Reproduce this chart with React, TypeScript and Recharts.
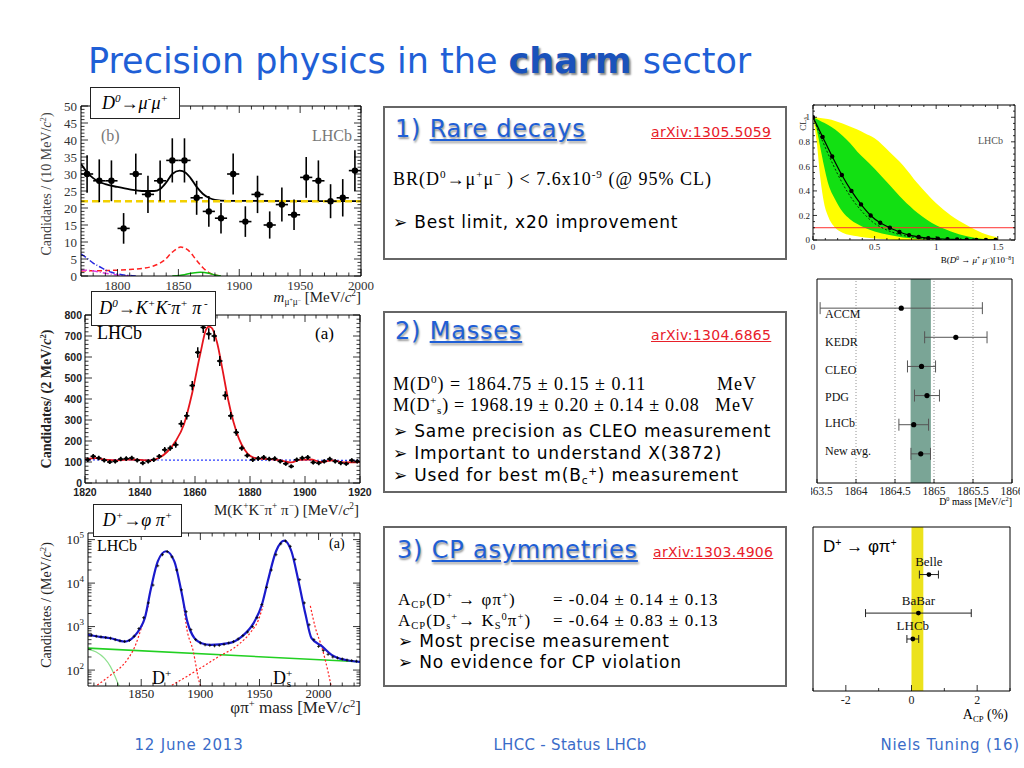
import React from 'react';
import { ComposedChart, XAxis, YAxis, Line, Scatter, ErrorBar, Area, ReferenceArea, ReferenceLine, LabelList } from 'recharts';

const SERIF = '"Liberation Serif", "DejaVu Serif", serif';
const SANS = '"DejaVu Sans", sans-serif';
const ARIAL = '"Liberation Sans", Arial, sans-serif';
const BLUE = '#1f5fd6';

// ---------- D0 -> mu+ mu- ----------
const mmBins = [1775, 1785, 1795, 1805, 1815, 1825, 1835, 1845, 1855, 1865, 1875, 1885, 1895, 1905, 1915, 1925, 1935, 1945, 1955, 1965, 1975, 1985, 1995];
const mmCounts = [30, 28, 28, 14, 30, 24, 28, 34, 34, 23, 19, 17, 30, 16, 24, 15, 21, 18, 29, 28, 22, 23, 31];
const mmErr = [5.5, 6.3, 6, 4.5, 6, 5.5, 6, 6.5, 6.5, 5, 4.5, 4.5, 6, 4.5, 5.5, 4, 5, 4.5, 6, 6, 5, 5.5, 6];
const mmFit: [number, number][] = [[1770, 33], [1775, 30.5], [1780, 28.8], [1790, 27], [1800, 26.2], [1810, 25.5], [1820, 25], [1830, 25], [1835, 25.6], [1840, 27.5], [1845, 30], [1851, 31], [1856, 30.4], [1860, 28.8], [1865, 26.2], [1870, 24.2], [1875, 23], [1880, 22.4], [1890, 22.1], [2000, 22]];
const mmComb: [number, number][] = [[1770, 22], [2000, 22]];
const mmPeak: [number, number][] = [[1770, 1.5], [1790, 1.6], [1810, 1.9], [1820, 2.2], [1830, 3], [1838, 4.5], [1845, 7], [1852, 8.5], [1858, 7.6], [1865, 4.6], [1870, 2.5], [1875, 1], [1880, 0.3], [1885, 0]];
const mmMisId: [number, number][] = [[1770, 6.5], [1775, 5.2], [1780, 3.8], [1785, 2.8], [1790, 1.8], [1795, 1.1], [1800, 0.6], [1808, 0.2], [1815, 0]];
const mmMag: [number, number][] = [[1770, 1.8], [1780, 1.5], [1790, 0.8], [1800, 0.3], [1810, 0]];
const mmSig: [number, number][] = [[1845, 0], [1855, 0.4], [1862, 0.9], [1868, 1.1], [1875, 0.8], [1880, 0.3], [1885, 0]];

// ---------- D0 -> K K pi pi ----------
const kkBins = [1821, 1823, 1825, 1827, 1829, 1831, 1833, 1835, 1837, 1839, 1841, 1843, 1845, 1847, 1849, 1851, 1853, 1855, 1857, 1859, 1861, 1863, 1865, 1867, 1869, 1871, 1873, 1875, 1877, 1879, 1881, 1883, 1885, 1887, 1889, 1891, 1893, 1895, 1897, 1899, 1901, 1903, 1905, 1907, 1909, 1911, 1913, 1915, 1917, 1919];
const kkCounts = [111, 127, 119, 108, 100, 103, 114, 116, 119, 108, 95, 103, 111, 127, 158, 166, 182, 282, 320, 464, 622, 741, 710, 700, 581, 417, 320, 241, 166, 131, 111, 117, 122, 114, 116, 103, 92, 79, 111, 119, 122, 98, 95, 103, 114, 103, 95, 92, 108, 103];
const kkErr = [11, 11, 11, 10, 10, 10, 11, 11, 11, 10, 10, 10, 11, 11, 13, 13, 14, 17, 18, 22, 25, 27, 27, 26, 24, 20, 18, 16, 13, 11, 11, 11, 11, 11, 11, 10, 10, 9, 11, 11, 11, 10, 10, 10, 11, 10, 10, 10, 10, 10];
const kkFit: [number, number][] = [[1820, 112], [1824, 118], [1828, 110], [1832, 108], [1836, 112], [1840, 110], [1844, 108], [1847, 120], [1850, 150], [1853, 200], [1856, 280], [1859, 430], [1862, 620], [1864, 730], [1865, 745], [1866, 740], [1868, 670], [1870, 540], [1872, 400], [1874, 290], [1876, 210], [1878, 160], [1880, 130], [1883, 116], [1887, 114], [1891, 108], [1895, 98], [1898, 110], [1902, 112], [1906, 100], [1910, 108], [1914, 98], [1920, 100]];
const kkBkg: [number, number][] = [[1820, 110], [1920, 108]];

// ---------- D+ -> phi pi+ (log) ----------
const ppFit: [number, number][] = [[1805, 650], [1815, 580], [1824, 540], [1836, 450], [1844, 590], [1849, 900], [1853, 1550], [1858, 7000], [1864, 31600], [1871, 54000], [1878, 31600], [1884, 6300], [1889, 1300], [1895, 540], [1901, 415], [1909, 380], [1924, 415], [1935, 590], [1945, 1200], [1952, 3170], [1957, 11000], [1964, 54000], [1971, 95000], [1977, 54000], [1983, 11000], [1989, 1860], [1994, 540], [2003, 350], [2011, 224], [2023, 170], [2035, 155]];
const ppData: [number, number][] = [[1808, 640], [1812, 600], [1816, 580], [1820, 560], [1824, 540], [1828, 500], [1832, 470], [1836, 455], [1840, 480], [1844, 600], [1848, 900], [1852, 1600], [1856, 3500], [1860, 9000], [1864, 25000], [1868, 45000], [1872, 53000], [1876, 40000], [1880, 20000], [1884, 7000], [1888, 2200], [1892, 850], [1896, 500], [1900, 420], [1904, 380], [1908, 370], [1912, 360], [1916, 370], [1920, 390], [1924, 420], [1928, 450], [1932, 520], [1936, 620], [1940, 750], [1944, 1000], [1948, 1600], [1952, 3200], [1956, 8000], [1960, 20000], [1964, 45000], [1968, 80000], [1972, 93000], [1976, 70000], [1980, 35000], [1984, 12000], [1988, 3500], [1992, 1100], [1996, 500], [2000, 350], [2004, 280], [2008, 230], [2012, 200], [2016, 190], [2020, 180], [2024, 170], [2028, 165], [2032, 160]];
const ppComb: [number, number][] = [[1805, 320], [2035, 155]];
const ppLow: [number, number][] = [[1805, 300], [1812, 260], [1819, 185], [1824, 120], [1828, 70], [1831, 45], [1833, 35]];
const ppDpL: [number, number][] = [[1810, 40], [1824, 76], [1838, 170], [1844, 316], [1851, 1100], [1856, 3000]];
const ppDpR: [number, number][] = [[1886, 3000], [1888, 1100], [1894, 270], [1899, 54], [1901, 38]];
const ppDsL: [number, number][] = [[1873, 40], [1895, 91], [1915, 200], [1932, 380], [1943, 770], [1949, 1400], [1953, 3000]];
const ppDsR: [number, number][] = [[1993, 3000], [1997, 1000], [2003, 316], [2008, 91], [2011, 38]];

// ---------- CLs scan ----------
const clGrid = [0, 0.03, 0.06, 0.09, 0.12, 0.18, 0.24, 0.3, 0.36, 0.42, 0.5, 0.62, 0.73, 0.85, 1.0, 1.12, 1.25, 1.37, 1.5];
const clYelHi = [1, 0.999, 0.995, 0.99, 0.985, 0.97, 0.95, 0.925, 0.9, 0.87, 0.83, 0.72, 0.61, 0.46, 0.3, 0.2, 0.12, 0.06, 0.02];
const clYelLo = [1, 0.8, 0.5, 0.3, 0.2, 0.1, 0.06, 0.04, 0.03, 0.02, 0.012, 0.005, 0, 0, 0, 0, 0, 0, 0];
const clGrnHi = [1, 0.985, 0.97, 0.955, 0.94, 0.9, 0.85, 0.79, 0.72, 0.66, 0.58, 0.45, 0.33, 0.22, 0.12, 0.07, 0.03, 0.01, 0.003];
const clGrnLo = [1, 0.9, 0.75, 0.6, 0.47, 0.33, 0.23, 0.17, 0.13, 0.1, 0.07, 0.04, 0.02, 0.008, 0.002, 0, 0, 0, 0];
const clObsX = [0, 0.078, 0.156, 0.234, 0.312, 0.39, 0.468, 0.546, 0.624, 0.702, 0.78, 0.858, 0.936, 1.014, 1.092, 1.17, 1.248, 1.326, 1.404, 1.482];
const clObsY = [1, 0.84, 0.68, 0.53, 0.4, 0.29, 0.2, 0.14, 0.1, 0.065, 0.04, 0.025, 0.015, 0.01, 0.006, 0.004, 0.002, 0.001, 0.001, 0.0005];
const clExp: [number, number][] = [[0, 1], [0.08, 0.8], [0.16, 0.62], [0.24, 0.46], [0.32, 0.33], [0.4, 0.23], [0.48, 0.15], [0.56, 0.1], [0.64, 0.065], [0.72, 0.04], [0.8, 0.025], [0.9, 0.012], [1.0, 0.005], [1.2, 0.001], [1.5, 0]];
const clLimit = 0.1;

// ---------- D0 mass comparison ----------
const mNames = ['ACCM', 'KEDR', 'CLEO', 'PDG', 'LHCb', 'New avg.'];
const mVals = [1864.58, 1865.28, 1864.84, 1864.91, 1864.74, 1864.83];
const mErr = [1.04, 0.4, 0.18, 0.16, 0.19, 0.125];
const mRows = [6, 5, 4, 3, 2, 1];
const mLabelRows = [5.8, 4.85, 3.9, 2.95, 2.05, 1.1];
const mBand = [1864.7, 1864.96];
const mGrid = [1864, 1864.5, 1865, 1865.5];
const mTicks = [1863.5, 1864, 1864.5, 1865, 1865.5, 1866];

// ---------- ACP(D+ -> phi pi+) ----------
const aNames = ['Belle', 'BaBar', 'LHCb'];
const aVals = [0.53, 0.21, 0.04];
const aErr = [0.29, 1.61, 0.18];
const aRows = [7.1, 4.75, 3.17];
const aBand = [0, 0.36];

const xy = (a: [number, number][]) => a.map(([x, y]) => ({ x, y }));
const rng = (a: number, b: number, s: number) => {
  const r: number[] = [];
  for (let v = a; v <= b + s / 1000; v += s) r.push(Math.round(v * 1000) / 1000);
  return r;
};
const logTicks = (lo: number, hi: number) => {
  const r: number[] = [];
  for (const d of [10, 100, 1000, 10000, 100000]) for (let k = 1; k < 10; k++) if (k * d >= lo && k * d <= hi) r.push(k * d);
  return r;
};

const AX = { l: 46, r: 10, t: 10, b: 30 };

type Ax = {
  xd: [number, number]; yd: [number, number];
  xt: number[]; xm: number[]; yt: number[]; ym: number[];
  xf?: (v: number) => React.ReactNode; yf?: (v: number) => React.ReactNode;
  font: string; fs: number; fw?: number | string; fill?: string;
  xlb: number; ylx: number; maj?: number; min?: number;
  ylog?: boolean; mirror?: boolean; yTick?: (p: any) => React.ReactElement;
};

function mkTick(side: 'b' | 't' | 'l' | 'r', a: Ax, labels: boolean) {
  const isX = side === 'b' || side === 't';
  const majors = isX ? a.xm : a.ym;
  const fmt = isX ? a.xf : a.yf;
  return (p: any) => {
    const v = Number(p.payload.value);
    const isM = majors.some((m) => Math.abs(m - v) < 1e-6 * Math.max(1, Math.abs(m)));
    const L = isM ? a.maj ?? 7 : a.min ?? 3.5;
    const { x, y } = p;
    const ln = side === 'b' ? [x, y, x, y - L] : side === 't' ? [x, y, x, y + L] : side === 'l' ? [x, y, x + L, y] : [x, y, x - L, y];
    const txt = fmt ? fmt(v) : String(v);
    const tp = { fontFamily: a.font, fontSize: a.fs, fontWeight: a.fw, fill: a.fill ?? '#111' };
    return (
      <g>
        {L > 0 && <line x1={ln[0]} y1={ln[1]} x2={ln[2]} y2={ln[3]} stroke="#000" strokeWidth={0.8} />}
        {labels && isM && side === 'b' && <text x={x} y={y + a.xlb} textAnchor="middle" {...tp}>{txt}</text>}
        {labels && isM && side === 'l' && <text x={x - a.ylx} y={y} dy="0.35em" textAnchor="end" {...tp}>{txt}</text>}
      </g>
    );
  };
}

function axes(a: Ax) {
  const line = { stroke: '#000', strokeWidth: 1 };
  const base = { type: 'number' as const, allowDataOverflow: true, interval: 0 as const, tickLine: false, tickSize: 0, tickMargin: 0, axisLine: line };
  const ysc = a.ylog ? ('log' as const) : ('auto' as const);
  return [
    <XAxis key="xb" {...base} dataKey="x" domain={a.xd} ticks={a.xt} tick={mkTick('b', a, true)} height={AX.b} />,
    <XAxis key="xt" {...base} xAxisId="t" orientation="top" dataKey="x" domain={a.xd} ticks={a.xt} tick={a.mirror ? mkTick('t', a, false) : false} height={AX.t} />,
    <YAxis key="yl" {...base} domain={a.yd} scale={ysc} ticks={a.yt} tick={a.yTick ?? mkTick('l', a, true)} width={AX.l} />,
    <YAxis key="yr" {...base} yAxisId="r" orientation="right" domain={a.yd} scale={ysc} ticks={a.yt} tick={a.mirror ? mkTick('r', a, false) : false} width={AX.r} />,
  ];
}

function Plot({ f, children }: { f: number[]; children: React.ReactNode }) {
  const [x0, x1, y0, y1] = f;
  const w = x1 - x0 + AX.l + AX.r;
  const h = y1 - y0 + AX.t + AX.b;
  return (
    <div style={{ position: 'absolute', left: x0 - AX.l, top: y0 - AX.t, width: w, height: h }}>
      <ComposedChart width={w} height={h} margin={{ top: 0, right: 0, bottom: 0, left: 0 }}>
        {children}
      </ComposedChart>
    </div>
  );
}

const Sup = ({ children }: { children: React.ReactNode }) => (
  <span style={{ fontSize: '0.62em', verticalAlign: '0.6em', lineHeight: 0 }}>{children}</span>
);
const Sub = ({ children }: { children: React.ReactNode }) => (
  <span style={{ fontSize: '0.62em', verticalAlign: '-0.3em', lineHeight: 0 }}>{children}</span>
);

function T({ x, r, c, b, size, font = SANS, color = '#000', style, children }: { x?: number; r?: number; c?: number; b: number; size: number; font?: string; color?: string; style?: React.CSSProperties; children: React.ReactNode }) {
  const pos: React.CSSProperties = r !== undefined ? { right: 1024 - r } : c !== undefined ? { left: c, transform: 'translateX(-50%)' } : { left: x };
  return (
    <div style={{ position: 'absolute', ...pos, top: b - 0.84 * size, fontSize: size, lineHeight: `${size}px`, fontFamily: font, color, whiteSpace: 'nowrap', ...style }}>
      {children}
    </div>
  );
}

function VT({ cx, cy, size, font = SERIF, color = '#222', weight, children }: { cx: number; cy: number; size: number; font?: string; color?: string; weight?: string; children: React.ReactNode }) {
  return (
    <div style={{ position: 'absolute', left: cx, top: cy, transform: 'translate(-50%,-50%) rotate(-90deg)', fontSize: size, fontFamily: font, color, fontWeight: weight, whiteSpace: 'nowrap', lineHeight: 1 }}>
      {children}
    </div>
  );
}

function Tag({ x, y, w, h, children }: { x: number; y: number; w: number; h: number; children: React.ReactNode }) {
  return (
    <div style={{ position: 'absolute', left: x, top: y, width: w, height: h, boxSizing: 'border-box', border: '1px solid #222', background: '#fff', display: 'flex', alignItems: 'center', justifyContent: 'center', fontFamily: SERIF, fontStyle: 'italic', fontSize: 18, whiteSpace: 'nowrap' }}>
      {children}
    </div>
  );
}

function Box({ y, h }: { y: number; h: number }) {
  return <div style={{ position: 'absolute', left: 383, top: y, width: 404, height: h, boxSizing: 'border-box', border: '2px solid #666' }} />;
}

const headStyle: React.CSSProperties = { textShadow: '1px 2px 2px #9a9a9a', letterSpacing: 0.8 };
const link: React.CSSProperties = { textDecoration: 'underline', letterSpacing: 0.3 };
const serifBody: React.CSSProperties = { letterSpacing: 1 };
const sansBody: React.CSSProperties = { letterSpacing: 0.8 };
const FOOT = '#3a6cc8';

const tenPow = (v: number) => (
  <>
    <tspan>10</tspan>
    <tspan dy={-6} fontSize={9}>{Math.round(Math.log10(v))}</tspan>
  </>
);

export default function App() {
  const mmPts = mmBins.map((x, i) => ({ x, y: mmCounts[i], e: mmErr[i], ex: 5 }));
  const kkPts = kkBins.map((x, i) => ({ x, y: kkCounts[i], e: kkErr[i], ex: 1 }));
  const yel = clGrid.map((x, i) => ({ x, r: [clYelLo[i], clYelHi[i]] }));
  const grn = clGrid.map((x, i) => ({ x, r: [clGrnLo[i], clGrnHi[i]] }));
  const obs = clObsX.map((x, i) => ({ x, y: clObsY[i] }));
  const mPts = mVals.map((x, i) => ({ x, y: mRows[i], ex: mErr[i] }));
  const aPts = aVals.map((x, i) => ({ x, y: aRows[i], ex: aErr[i], name: aNames[i] }));

  const massTick = (p: any) => {
    const i = mLabelRows.findIndex((v) => Math.abs(v - Number(p.payload.value)) < 1e-6);
    return (
      <text x={p.x + 8} y={p.y} dy="0.35em" fontFamily={SERIF} fontSize={12} fill="#111">{mNames[i]}</text>
    );
  };

  return (
    <div style={{ position: 'absolute', left: 0, top: 0, width: 1024, height: 768, background: '#fff', overflow: 'hidden', fontFamily: SANS }}>
      <style>{'.recharts-surface { overflow: visible; }'}</style>
      {/* title */}
      <T x={88} b={73} size={35} color={BLUE}>
        Precision physics in the <span style={{ fontWeight: 'bold', color: '#1a52bb', textShadow: '2px 2px 2px #8a8a8a' }}>charm</span> sector
      </T>

      {/* ---------- left 1: D0 -> mu mu ---------- */}
      <Plot f={[81, 361, 106, 276]}>
        {axes({ xd: [1770, 2000], yd: [0, 50], xt: rng(1770, 2000, 10), xm: [1800, 1850, 1900, 1950, 2000], yt: rng(0, 50, 1), ym: rng(0, 50, 5), font: SERIF, fs: 13, fill: '#333', xlb: 14, ylx: 4, mirror: true, maj: 7, min: 3.5 })}
        <Line data={xy(mmFit)} dataKey="y" type="monotone" stroke="#000" strokeWidth={1.8} dot={false} isAnimationActive={false} />
        <Line data={xy(mmComb)} dataKey="y" type="linear" stroke="#f2d000" strokeWidth={2.5} strokeDasharray="7 4" dot={false} isAnimationActive={false} />
        <Line data={xy(mmPeak)} dataKey="y" type="monotone" stroke="#ff2020" strokeWidth={1.5} strokeDasharray="5 3" dot={false} isAnimationActive={false} />
        <Line data={xy(mmMag)} dataKey="y" type="monotone" stroke="#e040e0" strokeWidth={1.5} strokeDasharray="6 2 1 2" dot={false} isAnimationActive={false} />
        <Line data={xy(mmMisId)} dataKey="y" type="monotone" stroke="#2828e0" strokeWidth={1.5} strokeDasharray="6 2 1 2" dot={false} isAnimationActive={false} />
        <Line data={xy(mmSig)} dataKey="y" type="monotone" stroke="#10c010" strokeWidth={1.5} dot={false} isAnimationActive={false} />
        <Scatter data={mmPts} dataKey="y" isAnimationActive={false} shape={(p: any) => <circle cx={p.cx} cy={p.cy} r={3.2} fill="#000" />}>
          <ErrorBar dataKey="e" direction="y" width={0} stroke="#000" strokeWidth={1.6} />
          <ErrorBar dataKey="ex" direction="x" width={0} stroke="#000" strokeWidth={1.6} />
        </Scatter>
      </Plot>
      <T x={101} b={141} size={16} font={SERIF} color="#777">(b)</T>
      <T r={352} b={141} size={16} font={SERIF} color="#777">LHCb</T>
      <T r={361} b={303} size={15} font={SERIF} color="#222">
        <i>m</i><Sub>μ<Sup>+</Sup>μ<Sup>−</Sup></Sub> [MeV/<i>c</i><Sup>2</Sup>]
      </T>
      <VT cx={47} cy={184} size={14} color="#444">Candidates / (10 MeV/<i>c</i><Sup>2</Sup>)</VT>
      <Tag x={90} y={87} w={90} h={32}><span>D<Sup>0</Sup>→μ<Sup>-</Sup>μ<Sup>+</Sup></span></Tag>

      {/* ---------- left 2: D0 -> K K pi pi ---------- */}
      <Plot f={[85, 360, 315, 483]}>
        {axes({ xd: [1820, 1920], yd: [0, 800], xt: rng(1820, 1920, 4), xm: [1820, 1840, 1860, 1880, 1900, 1920], yt: rng(0, 800, 20), ym: rng(0, 800, 100), font: ARIAL, fs: 10.5, fw: 'bold', fill: '#222', xlb: 13, ylx: 3, mirror: true, maj: 7, min: 3.5 })}
        <Line data={xy(kkBkg)} dataKey="y" type="linear" stroke="#2a3cff" strokeWidth={1.2} strokeDasharray="2 2" dot={false} isAnimationActive={false} />
        <Line data={xy(kkFit)} dataKey="y" type="monotone" stroke="#e5141c" strokeWidth={1.8} dot={false} isAnimationActive={false} />
        <Scatter data={kkPts} dataKey="y" isAnimationActive={false} shape={(p: any) => <circle cx={p.cx} cy={p.cy} r={1.8} fill="#000" />}>
          <ErrorBar dataKey="e" direction="y" width={0} stroke="#000" strokeWidth={1.5} />
          <ErrorBar dataKey="ex" direction="x" width={0} stroke="#000" strokeWidth={1.5} />
        </Scatter>
      </Plot>
      <T x={97} b={339} size={18} font={SERIF}>LHCb</T>
      <T x={315} b={339} size={17} font={SERIF}>(a)</T>
      <T r={359} b={516} size={15} font={SERIF} color="#222">
        M(K<Sup>+</Sup>K<Sup>−</Sup>π<Sup>+</Sup> π<Sup>−</Sup>) [MeV/<i>c</i><Sup>2</Sup>]
      </T>
      <VT cx={47} cy={399} size={14} weight="bold" color="#222">Candidates/ (2 MeV/<i>c</i><Sup>2</Sup>)</VT>
      <Tag x={91} y={291} w={125} h={35}><span>D<Sup>0</Sup>→K<Sup>+</Sup>K<Sup>-</Sup>π<Sup>+</Sup> π<Sup> -</Sup></span></Tag>

      {/* ---------- left 3: D+ -> phi pi+ ---------- */}
      <Plot f={[88, 360, 533, 686]}>
        {axes({ xd: [1805, 2035], yd: [43, 142000], ylog: true, xt: rng(1810, 2030, 10), xm: [1850, 1900, 1950, 2000], yt: logTicks(43, 142000), ym: [100, 1000, 10000, 100000], yf: tenPow, font: SERIF, fs: 13, fill: '#222', xlb: 12, ylx: 4, mirror: true, maj: 7, min: 3.5 })}
        <Line data={xy(ppComb)} dataKey="y" type="linear" stroke="#22d022" strokeWidth={1.6} dot={false} isAnimationActive={false} />
        <Line data={xy(ppLow)} dataKey="y" type="monotone" stroke="#8ee08e" strokeWidth={1.2} dot={false} isAnimationActive={false} />
        <Line data={xy(ppDpL)} dataKey="y" type="monotone" stroke="#ff2020" strokeWidth={1.2} strokeDasharray="2 2" dot={false} isAnimationActive={false} />
        <Line data={xy(ppDpR)} dataKey="y" type="monotone" stroke="#ff2020" strokeWidth={1.2} strokeDasharray="2 2" dot={false} isAnimationActive={false} />
        <Line data={xy(ppDsL)} dataKey="y" type="monotone" stroke="#ff2020" strokeWidth={1.2} strokeDasharray="2 2" dot={false} isAnimationActive={false} />
        <Line data={xy(ppDsR)} dataKey="y" type="monotone" stroke="#ff2020" strokeWidth={1.2} strokeDasharray="2 2" dot={false} isAnimationActive={false} />
        <Line data={xy(ppFit)} dataKey="y" type="monotone" stroke="#1a1acc" strokeWidth={2.2} dot={false} isAnimationActive={false} />
        <Scatter data={xy(ppData)} dataKey="y" isAnimationActive={false} shape={(p: any) => <path d={`M${p.cx - 1.5},${p.cy}h3M${p.cx},${p.cy - 1.5}v3`} stroke="#000" strokeWidth={0.8} />} />
      </Plot>
      <T x={97} b={551} size={16} font={SERIF}>LHCb</T>
      <T x={329} b={549} size={14} font={SERIF}>(a)</T>
      <T x={152} b={684} size={18} font={SERIF}>D<Sup>+</Sup></T>
      <T x={273} b={684} size={18} font={SERIF}>
        D<Sup>+</Sup><span style={{ fontSize: '0.62em', verticalAlign: '-0.3em', lineHeight: 0, marginLeft: '-0.5em' }}>s</span>
      </T>
      <T r={361} b={713} size={17} font={SERIF} color="#222">φπ<Sup>+</Sup> mass [MeV/<i>c</i><Sup>2</Sup>]</T>
      <VT cx={47} cy={605} size={14} color="#222">Candidates / (MeV/<i>c</i><Sup>2</Sup>)</VT>
      <Tag x={93} y={504} w={89} h={33}><span>D<Sup>+</Sup>→φ π<Sup>+</Sup></span></Tag>

      {/* ---------- middle boxes ---------- */}
      <Box y={106} h={154} />
      <T x={395} b={137} size={24} color={BLUE} style={headStyle}>1) <span style={{ textDecoration: 'underline' }}>Rare decays</span></T>
      <T x={651} b={137} size={14} color="#e8202a" style={link}>arXiv:1305.5059</T>
      <T x={393} b={185} size={18} font={SERIF} style={serifBody}>BR(D<Sup>0</Sup>→μ<Sup>+</Sup>μ<Sup>−</Sup> ) &lt; 7.6x10<Sup>-9</Sup> (@ 95% CL)</T>
      <T x={393} b={228} size={17} style={sansBody}>➢ Best limit, x20 improvement</T>

      <Box y={311} h={182} />
      <T x={395} b={339} size={24} color={BLUE} style={headStyle}>2) <span style={{ textDecoration: 'underline' }}>Masses</span></T>
      <T x={651} b={340} size={14} color="#e8202a" style={link}>arXiv:1304.6865</T>
      <T x={393} b={390} size={18} font={SERIF} style={serifBody}>M(D<Sup>0</Sup>)  = 1864.75 ± 0.15 ± 0.11</T>
      <T x={717} b={390} size={18} font={SERIF} style={serifBody}>MeV</T>
      <T x={393} b={411} size={18} font={SERIF} style={{ letterSpacing: 0.7 }}>M(D<Sup>+</Sup><Sub>s</Sub>) = 1968.19 ± 0.20 ± 0.14 ± 0.08</T>
      <T x={715} b={411} size={18} font={SERIF} style={serifBody}>MeV</T>
      <T x={393} b={437} size={17} style={sansBody}>➢ Same precision as CLEO measurement</T>
      <T x={393} b={459} size={17} style={sansBody}>➢ Important to understand X(3872)</T>
      <T x={393} b={481} size={17} style={sansBody}>➢ Used for best m(B<Sub>c</Sub><Sup>+</Sup>) measurement</T>

      <Box y={526} h={161} />
      <T x={397} b={558} size={24} color={BLUE} style={headStyle}>3) <span style={{ textDecoration: 'underline' }}>CP asymmetries</span></T>
      <T x={653} b={557} size={14} color="#e8202a" style={link}>arXiv:1303.4906</T>
      <T x={398} b={605} size={17} font={SERIF} style={serifBody}>A<Sub>CP</Sub>(D<Sup>+</Sup> → φπ<Sup>+</Sup>)</T>
      <T x={553} b={605} size={17} font={SERIF} style={serifBody}>=  -0.04 ± 0.14 ± 0.13</T>
      <T x={398} b={626} size={17} font={SERIF} style={serifBody}>A<Sub>CP</Sub>(D<Sub>s</Sub><Sup>+</Sup>→ K<Sub>S</Sub><Sup>0</Sup>π<Sup>+</Sup>)</T>
      <T x={553} b={626} size={17} font={SERIF} style={serifBody}>=  -0.64 ± 0.83 ± 0.13</T>
      <T x={398} b={647} size={17} style={sansBody}>➢ Most precise measurement</T>
      <T x={398} b={668} size={17} style={sansBody}>➢ No evidence for CP violation</T>

      {/* ---------- right 1: CLs ---------- */}
      <Plot f={[813, 1015, 105, 240]}>
        {axes({ xd: [0, 1.64], yd: [0, 1.1], xt: rng(0, 1.6, 0.1), xm: [0, 0.5, 1, 1.5], yt: rng(0, 1.1, 0.05), ym: [0, 0.2, 0.4, 0.6, 0.8, 1], font: SERIF, fs: 9, fill: '#222', xlb: 10, ylx: 3, mirror: true, maj: 4, min: 2 })}
        <Area data={yel} dataKey="r" type="monotone" stroke="none" fill="#ffff00" fillOpacity={1} isAnimationActive={false} />
        <Area data={grn} dataKey="r" type="monotone" stroke="none" fill="#12e012" fillOpacity={1} isAnimationActive={false} />
        <ReferenceLine y={clLimit} stroke="#ff3030" strokeWidth={1} />
        <Line data={xy(clExp)} dataKey="y" type="monotone" stroke="#000" strokeWidth={0.8} strokeDasharray="2 2" dot={false} isAnimationActive={false} />
        <Line data={obs} dataKey="y" type="monotone" stroke="#000" strokeWidth={1.2} dot={{ r: 1.6, fill: '#000', stroke: '#000' }} isAnimationActive={false} />
      </Plot>
      <T x={978} b={144} size={10} font={SERIF} color="#555">LHCb</T>
      <T r={1014} b={264} size={9} font={SERIF}>B(<i>D</i><Sup>0</Sup> → <i>μ</i><Sup>+</Sup> <i>μ</i><Sup>−</Sup>)[10<Sup>−8</Sup>]</T>
      <VT cx={803} cy={124} size={9}>CL<Sub>s</Sub></VT>

      {/* ---------- right 2: D0 mass ---------- */}
      <div style={{ position: 'absolute', left: 811, top: 260, width: 209, height: 260, overflow: 'hidden' }}>
        <div style={{ position: 'absolute', left: -811, top: -260, width: 1024, height: 768 }}>
          <Plot f={[817, 1012, 279, 483]}>
            {axes({ xd: [1863.5, 1866], yd: [0, 7], xt: mTicks, xm: mTicks, yt: mLabelRows, ym: [], font: SERIF, fs: 11.5, fill: '#222', xlb: 12, ylx: 3, maj: 4, min: 0, yTick: massTick })}
            <ReferenceArea x1={mBand[0]} x2={mBand[1]} fill="#7aa596" fillOpacity={1} stroke="none" />
            {mGrid.map((g) => <ReferenceLine key={g} x={g} stroke="#777" strokeDasharray="1 2" strokeWidth={0.8} />)}
            <Scatter data={mPts} dataKey="y" isAnimationActive={false} shape={(p: any) => <circle cx={p.cx} cy={p.cy} r={2.6} fill="#000" />}>
              <ErrorBar dataKey="ex" direction="x" width={6} stroke="#555" strokeWidth={1} />
            </Scatter>
          </Plot>
          <T r={1012} b={505} size={10} font={SERIF}>D<Sup>0</Sup> mass [MeV/c<Sup>2</Sup>]</T>
        </div>
      </div>

      {/* ---------- right 3: ACP ---------- */}
      <Plot f={[813, 1010, 527, 691]}>
        {axes({ xd: [-3, 3], yd: [0, 10], xt: rng(-3, 3, 1), xm: [-2, 0, 2], yt: [], ym: [], font: SERIF, fs: 12, fill: '#222', xlb: 13, ylx: 3, maj: 6, min: 3 })}
        <ReferenceArea x1={aBand[0]} x2={aBand[1]} fill="#ece21c" fillOpacity={1} stroke="none" />
        <Scatter data={aPts} dataKey="y" isAnimationActive={false} shape={(p: any) => <circle cx={p.cx} cy={p.cy} r={2.4} fill="#000" />}>
          <ErrorBar dataKey="ex" direction="x" width={4} stroke="#222" strokeWidth={1} />
          <LabelList dataKey="name" position="top" offset={4} style={{ fontFamily: SERIF, fontSize: 13, fill: '#111' }} />
        </Scatter>
      </Plot>
      <T x={823} b={552} size={17} font={ARIAL}>D<Sup>+</Sup> → φπ<Sup>+</Sup></T>
      <T r={1008} b={720} size={14} font={SERIF}>A<Sub>CP</Sub> (%)</T>

      {/* footer */}
      <T c={189} b={751} size={15} color={FOOT} style={{ letterSpacing: 0.8 }}>12 June 2013</T>
      <T c={570} b={751} size={15} color={FOOT} style={{ letterSpacing: 0.3 }}>LHCC - Status LHCb</T>
      <T r={1020} b={751} size={15} color={FOOT} style={{ letterSpacing: 0.8 }}>Niels Tuning (16)</T>
    </div>
  );
}
